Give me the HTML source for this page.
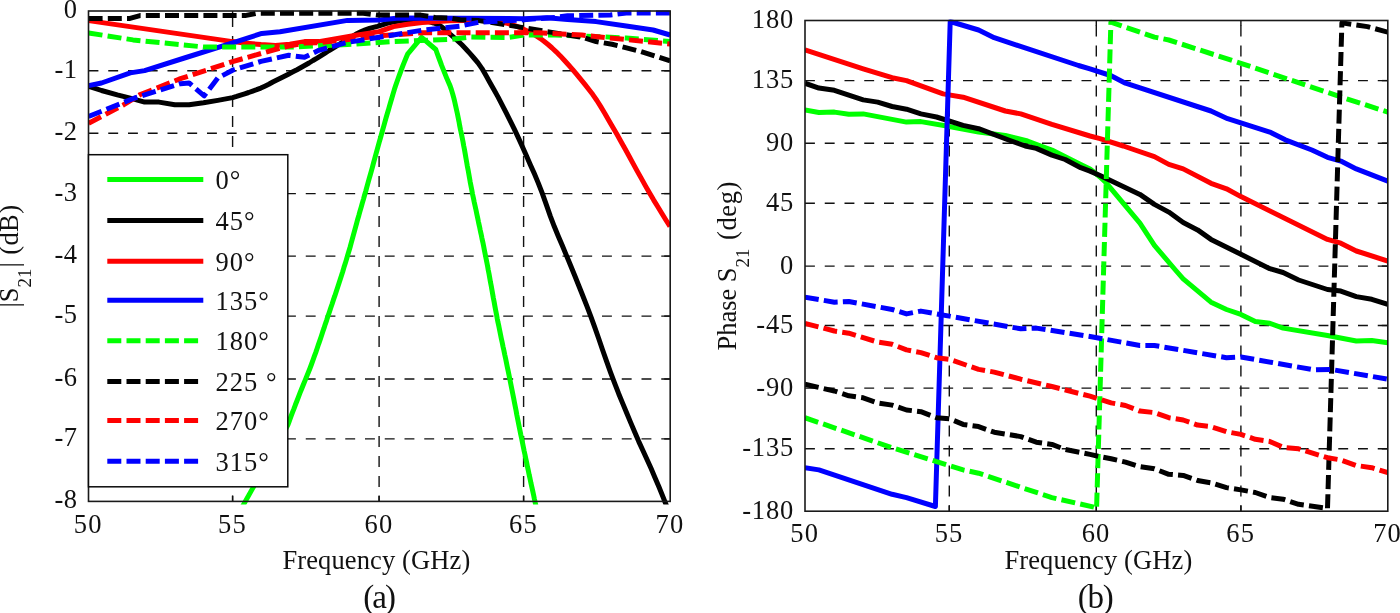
<!DOCTYPE html>
<html lang="en"><head><meta charset="utf-8"><title>S21 magnitude and phase</title>
<style>html,body{margin:0;padding:0;background:#fff;overflow:hidden}svg{display:block}</style></head>
<body>
<svg width="1400" height="613" viewBox="0 0 1400 613" font-family="'Liberation Serif', serif" font-size="26.5" fill="#111">
<rect width="1400" height="613" fill="#fff"/>
<defs><clipPath id="ca"><rect x="88.5" y="10.0" width="581.7" height="494.4"/></clipPath><clipPath id="cb"><rect x="805.0" y="19.5" width="582.8" height="492.7"/></clipPath></defs>
<g stroke="#111" stroke-width="1.4" fill="none"><g stroke-dasharray="11 9" stroke-dashoffset="-5"><line x1="232.6" y1="11.0" x2="232.6" y2="501.4"/><line x1="379.1" y1="11.0" x2="379.1" y2="501.4"/><line x1="523.6" y1="11.0" x2="523.6" y2="501.4"/></g><g stroke-dasharray="9.9 9.85"><line x1="88.5" y1="70.8" x2="670.2" y2="70.8"/><line x1="88.5" y1="133.3" x2="670.2" y2="133.3"/><line x1="88.5" y1="193.6" x2="670.2" y2="193.6"/><line x1="88.5" y1="256.1" x2="670.2" y2="256.1"/><line x1="88.5" y1="316.1" x2="670.2" y2="316.1"/><line x1="88.5" y1="379.0" x2="670.2" y2="379.0"/><line x1="88.5" y1="438.9" x2="670.2" y2="438.9"/></g><line x1="664.2" y1="70.8" x2="670.2" y2="70.8"/><line x1="664.2" y1="133.3" x2="670.2" y2="133.3"/><line x1="664.2" y1="193.6" x2="670.2" y2="193.6"/><line x1="664.2" y1="256.1" x2="670.2" y2="256.1"/><line x1="664.2" y1="316.1" x2="670.2" y2="316.1"/><line x1="664.2" y1="379.0" x2="670.2" y2="379.0"/><line x1="664.2" y1="438.9" x2="670.2" y2="438.9"/><line x1="232.6" y1="495.4" x2="232.6" y2="501.4"/><line x1="232.6" y1="11.0" x2="232.6" y2="16.5"/><line x1="379.1" y1="495.4" x2="379.1" y2="501.4"/><line x1="379.1" y1="11.0" x2="379.1" y2="16.5"/><line x1="523.6" y1="495.4" x2="523.6" y2="501.4"/><line x1="523.6" y1="11.0" x2="523.6" y2="16.5"/></g>
<g clip-path="url(#ca)">
<path d="M242.2,507.0 L251.8,489.9 L270.0,458.0 L287.8,425.0 L289.3,421.0 L290.8,416.9 L292.3,412.9 L293.9,408.9 L295.4,404.8 L297.0,400.8 L298.5,396.8 L300.1,392.7 L301.7,388.7 L303.3,384.7 L305.0,380.6 L306.6,376.6 L308.3,372.5 L309.9,368.5 L311.4,364.5 L312.9,360.4 L314.3,356.4 L315.8,352.4 L317.2,348.3 L318.5,344.3 L319.9,340.3 L321.3,336.2 L322.6,332.2 L324.0,328.2 L325.3,324.1 L326.7,320.1 L328.0,316.1 L329.4,312.0 L330.7,308.0 L332.1,304.0 L333.4,299.9 L334.8,295.9 L336.1,291.9 L337.5,287.8 L338.8,283.8 L340.1,279.7 L341.4,275.7 L342.7,271.7 L343.9,267.6 L345.2,263.6 L346.4,259.6 L347.6,255.5 L348.8,251.5 L350.0,247.5 L351.1,243.4 L352.2,239.4 L353.3,235.4 L354.4,231.3 L355.5,227.3 L356.6,223.3 L357.7,219.2 L358.9,215.2 L360.0,211.2 L361.2,207.1 L362.3,203.1 L363.5,199.1 L364.6,195.0 L365.8,191.0 L366.9,186.9 L368.0,182.9 L369.1,178.9 L370.3,174.8 L371.4,170.8 L372.5,166.8 L373.6,162.7 L374.7,158.7 L375.8,154.7 L376.9,150.6 L378.0,146.6 L379.1,142.6 L380.3,138.5 L381.4,134.5 L382.5,130.5 L383.7,126.4 L384.8,122.4 L385.9,118.4 L387.1,114.3 L388.3,110.3 L389.4,106.3 L390.6,102.2 L391.8,98.2 L393.0,94.1 L394.2,90.1 L395.5,86.1 L396.9,82.0 L398.3,78.0 L399.8,74.0 L401.3,69.9 L402.8,65.9 L404.4,61.9 L406.1,57.8 L407.8,53.8 L421.6,37.4 L435.8,49.5 L437.2,53.5 L438.7,57.5 L440.2,61.5 L441.7,65.6 L443.3,69.6 L444.9,73.6 L446.5,77.6 L448.2,81.6 L450.0,85.6 L451.4,89.6 L452.6,93.6 L453.7,97.7 L454.7,101.7 L455.6,105.7 L456.5,109.7 L457.4,113.7 L458.2,117.7 L459.0,121.7 L459.7,125.8 L460.5,129.8 L461.4,133.8 L462.2,137.8 L463.0,141.8 L463.7,145.8 L464.5,149.8 L465.2,153.8 L465.9,157.9 L466.6,161.9 L467.3,165.9 L468.1,169.9 L468.8,173.9 L469.5,177.9 L470.2,181.9 L471.0,185.9 L471.8,190.0 L472.5,194.0 L473.4,198.0 L474.2,202.0 L475.1,206.0 L476.0,210.0 L476.8,214.0 L477.7,218.1 L478.5,222.1 L479.4,226.1 L480.2,230.1 L481.1,234.1 L481.9,238.1 L482.8,242.1 L483.6,246.1 L484.4,250.2 L485.2,254.2 L486.0,258.2 L486.8,262.2 L487.6,266.2 L488.3,270.2 L489.1,274.2 L489.8,278.2 L490.5,282.3 L491.3,286.3 L492.0,290.3 L492.7,294.3 L493.4,298.3 L494.2,302.3 L494.9,306.3 L495.7,310.4 L496.5,314.4 L497.2,318.4 L498.0,322.4 L498.9,326.4 L499.7,330.4 L500.5,334.4 L501.3,338.4 L502.2,342.5 L503.0,346.5 L503.9,350.5 L504.7,354.5 L505.6,358.5 L506.4,362.5 L507.2,366.5 L508.1,370.6 L508.9,374.6 L509.7,378.6 L510.5,382.6 L511.3,386.6 L512.1,390.6 L512.9,394.6 L513.7,398.6 L514.5,402.7 L515.3,406.7 L516.1,410.7 L516.8,414.7 L517.6,418.7 L518.4,422.7 L519.2,426.7 L520.0,430.8 L520.8,434.8 L521.7,438.8 L522.5,442.8 L523.3,446.8 L524.1,450.8 L525.0,454.8 L525.8,458.8 L526.7,462.9 L527.5,466.9 L528.4,470.9 L529.2,474.9 L530.1,478.9 L530.9,482.9 L531.8,486.9 L532.7,490.9 L533.6,495.0 L534.4,499.0 L535.3,503.0 L536.2,507.0" stroke="#00ff00" stroke-width="5.0" fill="none" stroke-linejoin="round"/>
<path d="M88.6,86.2 L101.5,90.5 L117.3,94.9 L130.3,98.2 L144.6,102.1 L159.0,102.1 L174.8,104.8 L189.1,104.8 L203.5,102.8 L217.8,100.4 L232.6,97.6 L236.6,96.4 L240.6,95.1 L244.7,93.8 L248.7,92.5 L252.7,91.1 L256.7,89.7 L260.8,88.1 L264.8,86.2 L268.8,84.2 L272.8,82.0 L276.8,80.0 L280.9,77.9 L284.9,75.9 L288.9,73.9 L292.9,71.8 L297.0,69.7 L301.0,67.5 L305.0,65.3 L309.0,63.0 L313.0,60.5 L317.1,58.1 L321.1,55.6 L325.1,53.1 L329.1,50.5 L333.2,48.0 L337.2,45.6 L341.2,43.1 L345.2,40.7 L349.2,38.4 L353.3,35.9 L357.3,33.5 L361.3,31.5 L365.3,29.8 L369.4,28.5 L373.4,27.4 L377.4,26.3 L381.4,25.1 L385.4,23.8 L389.5,22.7 L393.5,21.8 L397.5,21.2 L401.5,20.6 L405.6,20.3 L409.6,20.2 L413.6,20.3 L417.6,20.4 L421.6,20.6 L425.7,21.0 L429.7,21.8 L433.7,23.0 L437.7,24.5 L441.8,27.0 L445.8,30.3 L449.8,33.9 L453.8,37.3 L457.8,40.9 L461.9,44.8 L465.9,49.0 L469.9,53.4 L473.9,58.0 L478.0,62.9 L482.0,68.6 L486.0,75.5 L490.0,82.7 L494.0,89.8 L498.1,97.1 L502.1,104.8 L506.1,112.6 L510.1,120.6 L514.2,128.9 L518.2,137.4 L522.2,146.2 L526.2,155.3 L530.2,164.4 L534.3,173.6 L538.3,183.1 L542.3,193.3 L546.3,204.6 L550.4,216.3 L554.4,226.8 L558.4,236.5 L562.4,245.8 L566.4,255.4 L570.5,265.2 L574.5,275.0 L578.5,285.0 L582.5,295.0 L586.6,305.3 L590.6,315.8 L594.6,326.8 L598.6,338.3 L602.6,350.0 L606.7,361.6 L610.7,372.8 L614.7,383.4 L618.7,393.7 L622.8,403.6 L626.8,413.3 L630.8,422.9 L634.8,432.3 L638.8,441.6 L642.9,450.5 L646.9,459.2 L650.9,468.1 L654.9,477.4 L659.0,487.0 L663.0,496.9 L667.0,507.0" stroke="#000000" stroke-width="5.0" fill="none" stroke-linejoin="round"/>
<path d="M88.6,20.6 L232.6,41.6 L246.5,43.2 L261.0,44.6 L275.4,45.6 L289.8,44.2 L304.5,41.6 L318.8,41.6 L333.2,39.2 L356.1,35.2 L379.1,31.6 L393.5,26.6 L407.8,24.3 L422.2,22.6 L449.5,20.8 L479.0,20.3 L483.1,20.5 L487.1,20.7 L491.2,21.0 L495.3,21.4 L499.3,21.9 L503.4,22.6 L507.4,23.4 L511.5,24.5 L515.6,25.9 L519.6,27.5 L523.7,29.3 L527.8,31.2 L531.8,33.3 L535.9,35.7 L540.0,38.3 L544.0,41.2 L548.1,44.5 L552.1,48.0 L556.2,51.8 L560.3,55.9 L564.3,60.3 L568.4,64.8 L572.5,69.4 L576.5,74.2 L580.6,79.1 L584.7,84.1 L588.7,89.2 L592.8,94.6 L596.9,100.5 L600.9,106.9 L605.0,113.7 L609.0,120.7 L613.1,127.8 L617.2,134.8 L621.2,142.0 L625.3,149.3 L629.4,156.7 L633.4,164.1 L637.5,171.6 L641.6,178.9 L645.6,186.1 L649.7,193.2 L653.7,200.1 L657.8,206.8 L661.9,213.5 L665.9,220.0 L670.0,226.5" stroke="#ff0000" stroke-width="5.0" fill="none" stroke-linejoin="round"/>
<path d="M88.6,85.6 L101.5,83.0 L130.3,72.9 L144.6,70.6 L186.0,57.5 L232.6,42.8 L261.8,33.4 L280.0,31.7 L347.5,20.4 L379.1,20.1 L399.2,18.0 L460.0,18.2 L523.8,18.7 L547.0,17.7 L567.6,19.5 L596.1,21.6 L626.2,26.0 L653.1,30.0 L670.2,35.0" stroke="#0000ff" stroke-width="5.0" fill="none" stroke-linejoin="round"/>
<path d="M88.6,33.0 L133.0,39.9 L205.0,47.1 L289.0,47.1 L347.5,44.5 L379.1,42.4 L393.0,41.6 L449.5,39.5 L470.0,37.0 L507.5,37.5 L523.8,35.1 L555.0,35.1 L602.4,36.7 L626.2,38.0 L670.2,41.5" stroke="#00ff00" stroke-width="5.0" fill="none" stroke-linejoin="round" stroke-dasharray="14 5.2"/>
<path d="M88.6,18.4 L130.0,18.4 L140.0,15.6 L245.0,15.6 L256.6,13.3 L363.3,13.3 L377.7,15.1 L420.8,15.1 L435.1,17.5 L449.5,18.0 L460.0,19.8 L479.0,20.6 L504.3,24.5 L523.8,27.7 L551.8,32.4 L581.9,37.2 L596.1,41.5 L612.0,44.3 L640.4,51.4 L670.2,60.9" stroke="#000000" stroke-width="5.0" fill="none" stroke-linejoin="round" stroke-dasharray="14 5.2"/>
<path d="M88.6,123.2 L123.0,105.2 L140.3,94.5 L180.5,78.7 L232.6,61.6 L280.0,48.1 L288.7,46.0 L304.5,43.1 L318.8,42.6 L356.1,38.8 L379.1,35.9 L422.2,32.7 L460.0,32.8 L539.0,32.8 L581.9,35.1 L602.4,37.2 L626.2,39.6 L670.2,44.0" stroke="#ff0000" stroke-width="5.0" fill="none" stroke-linejoin="round" stroke-dasharray="14 5.2"/>
<path d="M88.6,116.4 L134.6,98.0 L180.5,83.7 L189.1,83.0 L204.2,95.8 L217.8,78.0 L232.6,70.2 L261.0,61.4 L288.7,55.3 L304.5,57.2 L318.8,50.3 L347.5,42.4 L379.1,37.3 L422.2,30.2 L460.0,26.1 L479.0,22.2 L523.8,19.8 L555.0,17.4 L567.6,15.8 L610.4,15.0 L626.2,13.1 L670.2,13.1" stroke="#0000ff" stroke-width="5.0" fill="none" stroke-linejoin="round" stroke-dasharray="14 5.2"/>
</g>
<rect x="88.5" y="11.0" width="581.7" height="490.4" fill="none" stroke="#1a1a1a" stroke-width="1.6"/>
<rect x="88.5" y="154.7" width="199.3" height="332.1" fill="#fff" stroke="#0a0a0a" stroke-width="1.5"/>
<line x1="107.3" y1="179.4" x2="203.3" y2="179.4" stroke="#00ff00" stroke-width="5.0"/>
<text x="215.6" y="189.1" letter-spacing="1">0°</text>
<line x1="107.3" y1="220.4" x2="203.3" y2="220.4" stroke="#000000" stroke-width="5.0"/>
<text x="215.6" y="230.1" letter-spacing="1">45°</text>
<line x1="107.3" y1="261.2" x2="203.3" y2="261.2" stroke="#ff0000" stroke-width="5.0"/>
<text x="215.6" y="270.9" letter-spacing="1">90°</text>
<line x1="107.3" y1="300.3" x2="203.3" y2="300.3" stroke="#0000ff" stroke-width="5.0"/>
<text x="215.6" y="310.0" letter-spacing="1">135°</text>
<line x1="107.3" y1="340.7" x2="203.3" y2="340.7" stroke="#00ff00" stroke-width="5.0" stroke-dasharray="14 5.2"/>
<text x="215.6" y="350.4" letter-spacing="1">180°</text>
<line x1="107.3" y1="381.6" x2="203.3" y2="381.6" stroke="#000000" stroke-width="5.0" stroke-dasharray="14 5.2"/>
<text x="215.6" y="391.3" letter-spacing="1">225 °</text>
<line x1="107.3" y1="420.6" x2="203.3" y2="420.6" stroke="#ff0000" stroke-width="5.0" stroke-dasharray="14 5.2"/>
<text x="215.6" y="430.3" letter-spacing="1">270°</text>
<line x1="107.3" y1="461.2" x2="203.3" y2="461.2" stroke="#0000ff" stroke-width="5.0" stroke-dasharray="14 5.2"/>
<text x="215.6" y="470.9" letter-spacing="1">315°</text>
<text x="77.3" y="17.9" text-anchor="end" letter-spacing="0.3">0</text>
<text x="77.3" y="77.7" text-anchor="end" letter-spacing="0.3">-1</text>
<text x="77.3" y="140.2" text-anchor="end" letter-spacing="0.3">-2</text>
<text x="77.3" y="200.5" text-anchor="end" letter-spacing="0.3">-3</text>
<text x="77.3" y="263.0" text-anchor="end" letter-spacing="0.3">-4</text>
<text x="77.3" y="323.0" text-anchor="end" letter-spacing="0.3">-5</text>
<text x="77.3" y="385.9" text-anchor="end" letter-spacing="0.3">-6</text>
<text x="77.3" y="445.8" text-anchor="end" letter-spacing="0.3">-7</text>
<text x="77.3" y="508.3" text-anchor="end" letter-spacing="0.3">-8</text>
<text x="88.3" y="533.3" text-anchor="middle" letter-spacing="1.2">50</text>
<text x="232.4" y="533.3" text-anchor="middle" letter-spacing="1.2">55</text>
<text x="378.9" y="533.3" text-anchor="middle" letter-spacing="1.2">60</text>
<text x="523.4" y="533.3" text-anchor="middle" letter-spacing="1.2">65</text>
<text x="670.0" y="533.3" text-anchor="middle" letter-spacing="1.2">70</text>
<text x="376.4" y="568.6" text-anchor="middle" letter-spacing="0.12">Frequency (GHz)</text>
<text x="378.6" y="607.6" text-anchor="middle" font-size="33" letter-spacing="-1.9">(a)</text>
<text transform="translate(18.2,307.6) rotate(-90)">|S<tspan font-size="19" dy="12.5">21</tspan><tspan dy="-12.5" dx="1" letter-spacing="0.4">| (dB)</tspan></text>
<g stroke="#111" stroke-width="1.4" fill="none"><g stroke-dasharray="11 9" stroke-dashoffset="-5"><line x1="949.3" y1="20.5" x2="949.3" y2="511.2"/><line x1="1096.3" y1="20.5" x2="1096.3" y2="511.2"/><line x1="1240.9" y1="20.5" x2="1240.9" y2="511.2"/></g><g stroke-dasharray="9.9 9.85"><line x1="805.0" y1="80.6" x2="1387.8" y2="80.6"/><line x1="805.0" y1="143.2" x2="1387.8" y2="143.2"/><line x1="805.0" y1="203.2" x2="1387.8" y2="203.2"/><line x1="805.0" y1="266.1" x2="1387.8" y2="266.1"/><line x1="805.0" y1="325.5" x2="1387.8" y2="325.5"/><line x1="805.0" y1="388.1" x2="1387.8" y2="388.1"/><line x1="805.0" y1="448.8" x2="1387.8" y2="448.8"/></g><line x1="1381.8" y1="80.6" x2="1387.8" y2="80.6"/><line x1="1381.8" y1="143.2" x2="1387.8" y2="143.2"/><line x1="1381.8" y1="203.2" x2="1387.8" y2="203.2"/><line x1="1381.8" y1="266.1" x2="1387.8" y2="266.1"/><line x1="1381.8" y1="325.5" x2="1387.8" y2="325.5"/><line x1="1381.8" y1="388.1" x2="1387.8" y2="388.1"/><line x1="1381.8" y1="448.8" x2="1387.8" y2="448.8"/><line x1="949.3" y1="505.2" x2="949.3" y2="511.2"/><line x1="949.3" y1="20.5" x2="949.3" y2="26.0"/><line x1="1096.3" y1="505.2" x2="1096.3" y2="511.2"/><line x1="1096.3" y1="20.5" x2="1096.3" y2="26.0"/><line x1="1240.9" y1="505.2" x2="1240.9" y2="511.2"/><line x1="1240.9" y1="20.5" x2="1240.9" y2="26.0"/></g>
<g clip-path="url(#cb)">
<path d="M804.9,109.9 L818.9,112.5 L834.4,112.1 L848.8,114.3 L863.2,113.9 L906.5,122.1 L920.9,121.6 L945.3,125.8 L978.6,132.1 L1005.3,135.4 L1027.5,141.0 L1040.8,146.0 L1051.9,150.0 L1080.7,164.4 L1090.0,168.9 L1100.0,177.0 L1106.6,183.3 L1139.9,223.2 L1154.4,245.4 L1175.4,270.0 L1183.2,278.9 L1211.0,302.2 L1226.5,309.5 L1240.9,314.4 L1255.3,321.5 L1269.8,323.3 L1283.1,328.1 L1327.5,335.5 L1356.3,341.0 L1371.8,340.6 L1387.8,342.8" stroke="#00ff00" stroke-width="5.0" fill="none" stroke-linejoin="round"/>
<path d="M804.9,83.2 L818.9,88.1 L834.4,90.3 L863.2,99.9 L877.7,102.1 L892.1,106.5 L906.5,109.2 L920.9,113.9 L936.5,117.0 L963.1,125.4 L978.6,128.7 L1008.6,140.0 L1025.2,146.0 L1036.3,148.4 L1051.9,155.1 L1065.2,159.5 L1080.7,167.7 L1090.0,171.1 L1100.0,175.5 L1139.9,194.4 L1154.4,204.4 L1168.8,212.1 L1183.2,222.6 L1197.6,229.9 L1211.0,239.4 L1240.9,254.3 L1269.8,268.7 L1283.1,272.5 L1298.6,280.0 L1327.5,289.5 L1340.8,291.1 L1356.3,296.6 L1371.8,299.3 L1387.8,304.4" stroke="#000000" stroke-width="5.0" fill="none" stroke-linejoin="round"/>
<path d="M804.9,49.9 L863.2,68.8 L892.1,77.7 L906.5,80.6 L943.1,93.9 L963.1,97.2 L1005.3,111.0 L1020.8,113.9 L1051.9,124.3 L1090.0,136.0 L1100.0,138.7 L1123.3,146.0 L1154.4,156.6 L1168.8,164.4 L1183.2,168.9 L1211.0,183.3 L1226.5,188.8 L1240.9,196.6 L1327.5,239.4 L1340.8,243.2 L1356.3,251.0 L1387.8,261.0" stroke="#ff0000" stroke-width="5.0" fill="none" stroke-linejoin="round"/>
<path d="M804.9,467.7 L818.9,469.9 L892.1,494.3 L906.5,497.6 L935.4,506.5 L950.2,21.5 L978.6,30.0 L994.2,37.7 L1078.5,65.5 L1090.0,68.8 L1110.6,75.5 L1125.5,83.2 L1211.0,111.0 L1227.6,118.7 L1269.8,132.1 L1285.3,139.8 L1311.9,150.0 L1327.5,157.3 L1340.8,161.1 L1356.3,168.9 L1387.8,181.1" stroke="#0000ff" stroke-width="5.0" fill="none" stroke-linejoin="round"/>
<path d="M804.9,417.7 L892.1,447.7 L963.1,469.9 L978.6,473.2 L1051.9,497.6 L1096.6,507.8" stroke="#00ff00" stroke-width="5.0" fill="none" stroke-linejoin="round" stroke-dasharray="14.04 5.21"/>
<path d="M1096.6,507.8 L1110.9,22.2 L1154.4,37.1 L1168.8,40.0 L1240.9,63.3 L1336.3,95.4 L1387.8,112.1" stroke="#00ff00" stroke-width="5.0" fill="none" stroke-linejoin="round" stroke-dasharray="14.06 5.22" stroke-dashoffset="18.1"/>
<path d="M804.9,384.3 L834.4,391.0 L848.8,395.8 L863.2,397.8 L877.7,402.9 L892.1,405.1 L906.5,410.0 L920.9,411.7 L936.5,417.7 L949.8,418.9 L963.1,424.4 L978.6,426.6 L994.2,432.2 L1020.8,436.6 L1036.3,442.2 L1051.9,444.4 L1065.2,449.5 L1090.0,454.4 L1100.0,456.6 L1111.1,458.8 L1125.5,462.1 L1139.9,466.6 L1154.4,468.8 L1168.8,474.3 L1183.2,475.4 L1197.6,480.5 L1211.0,482.8 L1226.5,487.6 L1240.9,489.9 L1255.3,492.5 L1269.8,497.6 L1283.1,499.2 L1298.6,504.3 L1327.5,508.3" stroke="#000000" stroke-width="5.0" fill="none" stroke-linejoin="round" stroke-dasharray="14.06 5.23"/>
<path d="M1327.5,508.3 L1341.9,22.9 L1367.4,26.6 L1387.8,32.2" stroke="#000000" stroke-width="5.0" fill="none" stroke-linejoin="round" stroke-dasharray="14.03 5.21"/>
<path d="M804.9,323.3 L834.4,331.0 L848.8,333.2 L877.7,342.1 L892.1,344.3 L906.5,349.9 L920.9,352.6 L936.5,357.7 L949.8,359.4 L978.6,369.4 L994.2,372.1 L1020.8,379.2 L1051.9,386.5 L1090.0,396.2 L1111.1,402.9 L1125.5,405.5 L1139.9,411.1 L1154.4,412.6 L1168.8,417.7 L1183.2,420.0 L1197.6,425.1 L1211.0,426.6 L1226.5,431.7 L1240.9,434.4 L1255.3,439.3 L1269.8,441.5 L1283.1,447.3 L1298.6,448.8 L1327.5,457.7 L1340.8,459.9 L1356.3,465.5 L1371.8,467.7 L1387.8,472.6" stroke="#ff0000" stroke-width="5.0" fill="none" stroke-linejoin="round" stroke-dasharray="14 5.2"/>
<path d="M804.9,297.1 L834.4,302.2 L848.8,301.5 L892.1,309.5 L906.5,313.9 L920.9,311.1 L1020.8,328.8 L1036.3,328.1 L1090.0,336.5 L1139.9,345.5 L1154.4,345.5 L1226.5,357.7 L1240.9,357.0 L1314.1,369.9 L1330.8,369.4 L1387.8,379.2" stroke="#0000ff" stroke-width="5.0" fill="none" stroke-linejoin="round" stroke-dasharray="14 5.2"/>
</g>
<rect x="805.0" y="20.5" width="582.8" height="490.7" fill="none" stroke="#1a1a1a" stroke-width="1.6"/>
<text x="794" y="28.1" text-anchor="end" letter-spacing="0.8">180</text>
<text x="794" y="88.2" text-anchor="end" letter-spacing="0.8">135</text>
<text x="794" y="150.8" text-anchor="end" letter-spacing="0.8">90</text>
<text x="794" y="210.8" text-anchor="end" letter-spacing="0.8">45</text>
<text x="794" y="273.7" text-anchor="end" letter-spacing="0.8">0</text>
<text x="794" y="333.1" text-anchor="end" letter-spacing="0.8">-45</text>
<text x="794" y="395.7" text-anchor="end" letter-spacing="0.8">-90</text>
<text x="794" y="456.4" text-anchor="end" letter-spacing="0.8">-135</text>
<text x="794" y="518.8" text-anchor="end" letter-spacing="0.8">-180</text>
<text x="804.8" y="542.2" text-anchor="middle" letter-spacing="1.2">50</text>
<text x="949.1" y="542.2" text-anchor="middle" letter-spacing="1.2">55</text>
<text x="1096.1" y="542.2" text-anchor="middle" letter-spacing="1.2">60</text>
<text x="1240.7" y="542.2" text-anchor="middle" letter-spacing="1.2">65</text>
<text x="1387.6" y="542.2" text-anchor="middle" letter-spacing="1.2">70</text>
<text x="1098.4" y="569.2" text-anchor="middle" letter-spacing="0.12">Frequency (GHz)</text>
<text x="1095.2" y="607.6" text-anchor="middle" font-size="33" letter-spacing="-1.2">(b)</text>
<text transform="translate(736,350.6) rotate(-90)">Phase S<tspan font-size="19" dy="12.5">21</tspan><tspan dy="-12.5" dx="1.2" letter-spacing="0.6"> (deg)</tspan></text>
</svg>
</body></html>
